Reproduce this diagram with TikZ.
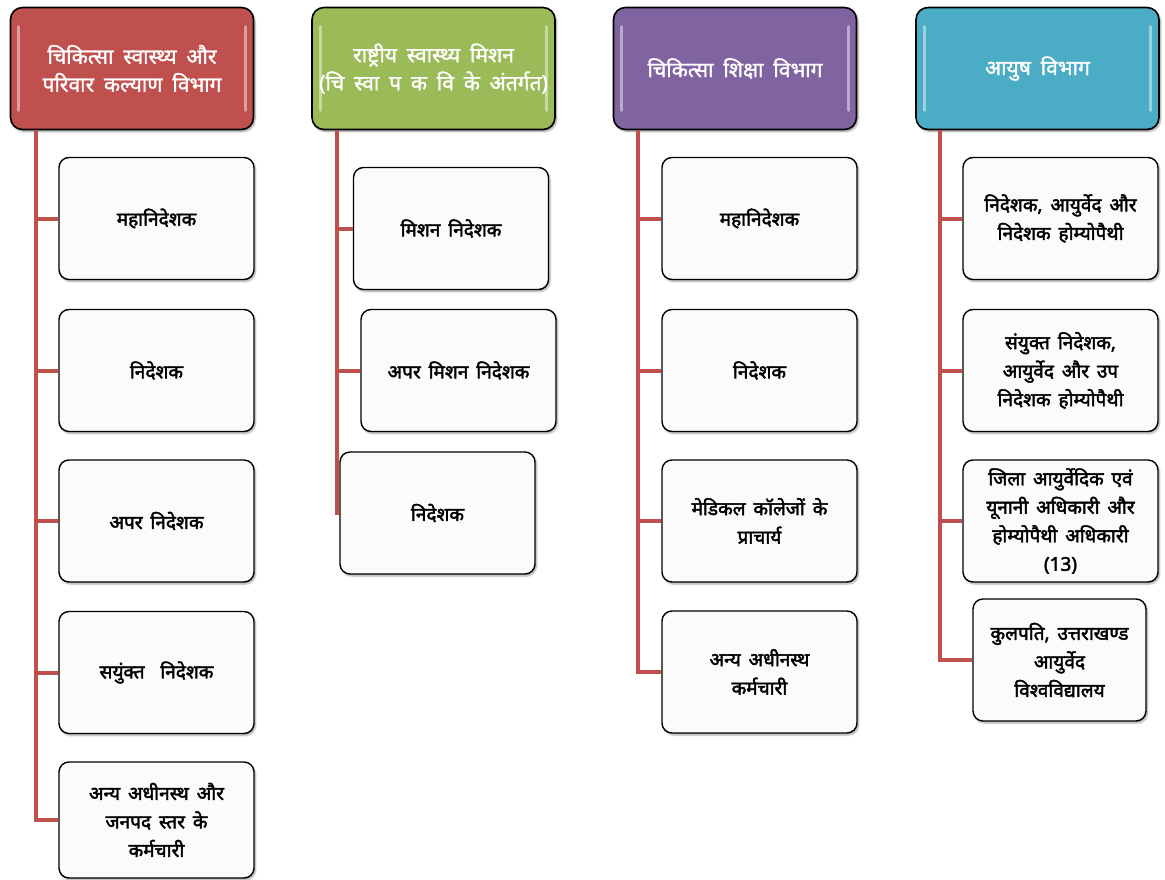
\documentclass[tikz,border=0pt]{standalone}
\usepackage{fontspec}
\newfontfamily\devb[Script=Devanagari, FakeBold=2.2, WordSpace=1.6]{Noto Sans}
\newfontfamily\devh[Script=Devanagari, FakeBold=1.4, WordSpace=1.8]{Noto Sans}
\usetikzlibrary{shadows,shadows.blur}
\definecolor{cred}{HTML}{C0504D}
\definecolor{cgreen}{HTML}{9BBB59}
\definecolor{cpurple}{HTML}{8064A2}
\definecolor{ccyan}{HTML}{4BACC6}
\begin{document}
\begin{tikzpicture}[x=1pt,y=-1pt,
  hdr/.style={draw=black, line width=1.6pt, rounded corners=12pt, text=white,
    font=\devh\fontsize{21}{28}\selectfont, align=center,
    minimum width=243pt, minimum height=122pt, inner sep=0pt,
    blur shadow={shadow xshift=1.5pt, shadow yshift=-2pt, shadow blur steps=6, shadow opacity=40}},
  child/.style={draw=black, line width=1.4pt, rounded corners=10pt, fill=gray!3,
    font=\devb\fontsize{19}{28.5}\selectfont, align=center,
    minimum width=195pt, minimum height=122pt, inner sep=0pt,
    blur shadow={shadow xshift=1.5pt, shadow yshift=-2pt, shadow blur steps=6, shadow opacity=35}},
  conn/.style={draw=cred, line width=4pt},
  gloss/.style={draw=white, opacity=0.45, line width=3pt, line cap=round}
]
\useasboundingbox (0,0) rectangle (1165,880);

% ---------- connector end points ----------
\coordinate (t1) at (36,824);
\coordinate (t2) at (337,515);
\coordinate (t3) at (638,672);
\coordinate (t4) at (940,660);

% ---------- headers ----------
\node[hdr, fill=cred]    (h1) at (132,68.5) {चिकित्सा स्वास्थ्य और\\परिवार कल्याण विभाग};
\node[hdr, fill=cgreen]  (h2) at (433.5,68.5) {राष्ट्रीय स्वास्थ्य मिशन\\(चि स्वा प क वि के अंतर्गत)};
\node[hdr, fill=cpurple] (h3) at (735,68.5) {चिकित्सा शिक्षा विभाग};
\node[hdr, fill=ccyan]   (h4) at (1037.5,68.5) {आयुष विभाग};

\foreach \h in {h1,h2,h3,h4}{
  \draw[gloss] ([xshift=9pt,yshift=-20pt]\h.north west) -- ([xshift=9pt,yshift=20pt]\h.south west);
  \draw[gloss] ([xshift=-9pt,yshift=-20pt]\h.north east) -- ([xshift=-9pt,yshift=20pt]\h.south east);
}

% ---------- column 1 ----------
\node[child] (c11) at (156.5,218.5) {महानिदेशक};
\node[child] (c12) at (156.5,370.5) {निदेशक};
\node[child] (c13) at (156.5,521) {अपर निदेशक};
\node[child] (c14) at (156.5,672.5) {सयुंक्त\ \ निदेशक};
\node[child, minimum height=116pt] (c15) at (156.5,820) {अन्य अधीनस्थ और\\जनपद स्तर के\\कर्मचारी};

% ---------- column 2 ----------
\node[child] (c21) at (451,228.5) {मिशन निदेशक};
\node[child] (c22) at (458.5,370.5) {अपर मिशन निदेशक};
\node[child] (c23) at (437.5,513) {निदेशक};

% ---------- column 3 ----------
\node[child] (c31) at (759.5,218.5) {महानिदेशक};
\node[child] (c32) at (759.5,370.5) {निदेशक};
\node[child] (c33) at (759.5,521) {मेडिकल कॉलेजों के\\प्राचार्य};
\node[child] (c34) at (759.5,672) {अन्य अधीनस्थ\\कर्मचारी};

% ---------- column 4 ----------
\node[child] (c41) at (1060.5,218.5) {निदेशक, आयुर्वेद और\\निदेशक होम्योपैथी};
\node[child] (c42) at (1060.5,370.5) {संयुक्त निदेशक,\\आयुर्वेद और उप\\निदेशक होम्योपैथी};
\node[child] (c43) at (1060.5,521) {जिला आयुर्वेदिक एवं\\यूनानी अधिकारी और\\होम्योपैथी अधिकारी\\(13)};
\node[child, minimum width=173pt] (c44) at (1059.5,660) {कुलपति, उत्तराखण्ड\\आयुर्वेद\\विश्वविद्यालय};

% ---------- trunks and branches ----------
\draw[conn] (h1.south -| t1) |- (c15.west);
\foreach \c in {c11,c12,c13,c14} \draw[conn] (\c.west -| t1) -- (\c.west);

\draw[conn] (h2.south -| t2) -- (t2);
\foreach \c in {c21,c22} \draw[conn] (\c.west -| t2) -- (\c.west);

\draw[conn] (h3.south -| t3) |- (c34.west);
\foreach \c in {c31,c32,c33} \draw[conn] (\c.west -| t3) -- (\c.west);

\draw[conn] (h4.south -| t4) |- (c44.west);
\foreach \c in {c41,c42,c43} \draw[conn] (\c.west -| t4) -- (\c.west);
\end{tikzpicture}
\end{document}
